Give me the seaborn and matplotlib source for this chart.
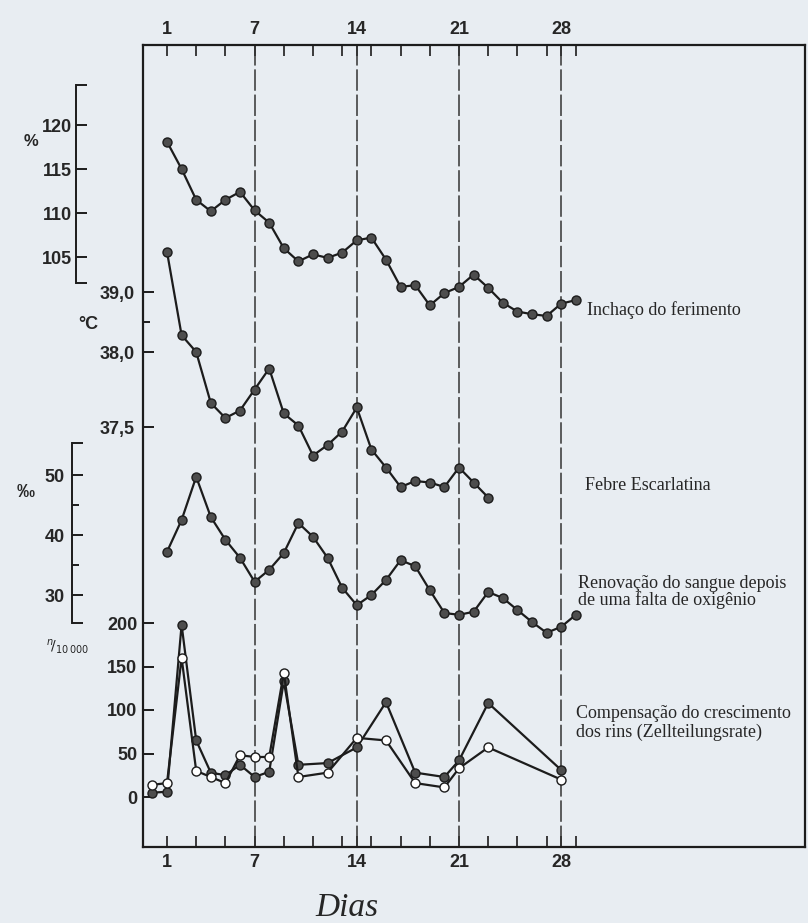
import numpy as np
import matplotlib
matplotlib.use("Agg")
import matplotlib.pyplot as plt
import seaborn as sns
from matplotlib.ticker import FixedLocator, FixedFormatter

# x axis (days)
day_ticks = [1, 7, 14, 21, 28]
minor_days = [3, 5, 9, 11, 13, 15, 17, 19, 23, 25, 27, 29]
ref_days = [7, 14, 21, 28]

# Inchaço do ferimento (%)
swell_days = list(range(1, 30))
swell_pct = [118.1, 115.0, 111.5, 110.2, 111.5, 112.4, 110.3, 108.9, 106.0, 104.5,
             105.3, 104.9, 105.5, 106.9, 107.2, 104.7, 101.6, 101.8, 99.5, 100.9,
             101.6, 103.0, 101.5, 99.8, 98.8, 98.5, 98.3, 99.7, 100.1]
pct_ticks = [105, 110, 115, 120]
pct_bracket = (102.0, 124.5)

# Febre Escarlatina (°C)
fever_days = list(range(1, 24))
fever_c = [39.67, 38.28, 38.0, 37.66, 37.56, 37.61, 37.75, 37.89, 37.59, 37.51,
           37.31, 37.38, 37.47, 37.63, 37.35, 37.23, 37.10, 37.14, 37.13, 37.10,
           37.23, 37.13, 37.03]
temp_ticks = [37.5, 38.0, 39.0]
temp_labels = ["37,5", "38,0", "39,0"]
temp_minor = [38.5]

# Renovação do sangue (‰)
blood_days = list(range(1, 30))
blood_pm = [37.2, 42.5, 49.7, 43.0, 39.2, 36.2, 32.2, 34.2, 37.0, 42.0,
            39.7, 36.2, 31.2, 28.3, 30.0, 32.5, 35.8, 34.8, 30.8, 27.0,
            26.7, 27.2, 30.5, 29.5, 27.5, 25.5, 23.7, 24.7, 26.7]
pm_ticks = [30, 40, 50]
pm_minor = [35, 45]
pm_bracket = (25.3, 55.3)

# Compensação do crescimento dos rins (n/10 000)
kid_days = [0, 1, 2, 3, 4, 5, 6, 7, 8, 9, 10, 12, 14, 16, 18, 20, 21, 23, 28]
kid_filled = [5, 6, 198, 65, 28, 25, 37, 23, 29, 133, 37, 39, 57, 109, 28, 23, 42, 108, 31]
kid_open = [14, 16, 160, 30, 23, 16, 48, 46, 46, 143, 23, 28, 68, 65, 16, 11, 33, 57, 20]
cnt_ticks = [0, 50, 100, 150, 200]

BG = "#e8edf2"
INK = "#1c1c1c"

sns.set_theme(style="white")
plt.rcParams["font.family"] = ["Liberation Sans", "DejaVu Sans"]

W, H = 808, 923
L, R, T, B = 143, 805, 45, 847
rect = [L / W, (H - B) / H, (R - L) / W, (B - T) / H]
xlim = (1 - (167 - L) / 14.6, 1 + (R - 167) / 14.6)

fig = plt.figure(figsize=(W / 100, H / 100), dpi=100, facecolor=BG)
ax = fig.add_axes(rect, label="frame")
ax.set_facecolor(BG)
ax.set_xlim(xlim)
ax.set_yticks([])
for s in ax.spines.values():
    s.set_linewidth(1.6)
    s.set_color(INK)
ax.set_xticks(day_ticks)
ax.set_xticks(minor_days, minor=True)
ax.tick_params(axis="x", which="both", direction="in", top=True, bottom=True,
               labeltop=True, labelbottom=True, length=8, width=1.2, color=INK,
               labelsize=13, pad=5)
for lab in ax.get_xticklabels(which="major"):
    lab.set_fontweight("bold")
for d in ref_days:
    ax.axvline(d, color="#333333", lw=1.1, ls=(0, (14, 2.5)))


def overlay(name):
    a = fig.add_axes(rect, label=name)
    a.patch.set_visible(False)
    for s in a.spines.values():
        s.set_visible(False)
    a.set_xlim(xlim)
    a.tick_params(axis="x", which="both", bottom=False, top=False,
                  labelbottom=False, labeltop=False)
    a.tick_params(axis="y", which="both", left=True, right=False, direction="in",
                  color=INK, labelsize=13, width=1.4)
    return a


def lin_ylim(v0, y0, k):
    return (v0 - (B - y0) / k, v0 + (y0 - T) / k)


marker_kw = dict(color=INK, lw=1.6, marker="o", markersize=6.5,
                 markerfacecolor="#4d4d4d", markeredgecolor=INK, markeredgewidth=1.0)

# swelling, bracket scale left of the frame
ax_pct = overlay("pct")
sns.lineplot(x=swell_days, y=swell_pct, ax=ax_pct, **marker_kw)
ax_pct.set_ylim(lin_ylim(120, 125, 8.8))
sp = ax_pct.spines["left"]
sp.set_visible(True)
sp.set_linewidth(1.4)
sp.set_color(INK)
sp.set_position(("axes", (76 - L) / (R - L)))
sp.set_bounds(*pct_bracket)
ax_pct.yaxis.set_major_locator(FixedLocator([pct_bracket[0]] + pct_ticks + [pct_bracket[1]]))
ax_pct.yaxis.set_major_formatter(FixedFormatter([""] + [str(v) for v in pct_ticks] + [""]))
ax_pct.tick_params(axis="y", length=8, pad=3)

# fever, odd piecewise scale as printed
T_KN = np.array([33.0, 37.5, 38.0, 39.0, 45.0])
PX_KN = np.array([1102.0, 427.0, 352.0, 292.0, -68.0])


def fwd(v):
    return -np.interp(v, T_KN, PX_KN)


def inv(u):
    return np.interp(-np.asarray(u), PX_KN[::-1], T_KN[::-1])


ax_tmp = overlay("temp")
sns.lineplot(x=fever_days, y=fever_c, ax=ax_tmp, **marker_kw)
ax_tmp.set_yscale("function", functions=(fwd, inv))
ax_tmp.set_ylim(float(inv(-B)), float(inv(-T)))
ax_tmp.yaxis.set_major_locator(FixedLocator(temp_ticks))
ax_tmp.yaxis.set_major_formatter(FixedFormatter(temp_labels))
ax_tmp.yaxis.set_minor_locator(FixedLocator(temp_minor))
ax_tmp.yaxis.set_minor_formatter(FixedFormatter([""]))
ax_tmp.tick_params(axis="y", which="major", length=8, pad=6)
ax_tmp.tick_params(axis="y", which="minor", length=5)

# blood renewal, second bracket scale
ax_pm = overlay("permille")
sns.lineplot(x=blood_days, y=blood_pm, ax=ax_pm, **marker_kw)
ax_pm.set_ylim(lin_ylim(50, 475, 6.0))
sp = ax_pm.spines["left"]
sp.set_visible(True)
sp.set_linewidth(1.4)
sp.set_color(INK)
sp.set_position(("axes", (72 - L) / (R - L)))
sp.set_bounds(*pm_bracket)
ax_pm.yaxis.set_major_locator(FixedLocator([pm_bracket[0]] + pm_ticks + [pm_bracket[1]]))
ax_pm.yaxis.set_major_formatter(FixedFormatter([""] + [str(v) for v in pm_ticks] + [""]))
ax_pm.yaxis.set_minor_locator(FixedLocator(pm_minor))
ax_pm.yaxis.set_minor_formatter(FixedFormatter(["", ""]))
ax_pm.tick_params(axis="y", which="major", length=8, pad=5)
ax_pm.tick_params(axis="y", which="minor", length=5)

# kidney growth, two series
ax_cnt = overlay("count")
sns.lineplot(x=kid_days, y=kid_filled, ax=ax_cnt, **marker_kw)
open_kw = dict(marker_kw, markerfacecolor="white")
sns.lineplot(x=kid_days, y=kid_open, ax=ax_cnt, **open_kw)
ax_cnt.set_ylim(lin_ylim(0, 797, 0.87))
ax_cnt.yaxis.set_major_locator(FixedLocator(cnt_ticks))
ax_cnt.yaxis.set_major_formatter(FixedFormatter([str(v) for v in cnt_ticks]))
ax_cnt.tick_params(axis="y", length=8, pad=4)

for a in (ax_pct, ax_tmp, ax_pm, ax_cnt):
    for lab in a.get_yticklabels():
        lab.set_fontweight("bold")
    a.set_xlabel("")
    a.set_ylabel("")


def ftext(x, y, s, **kw):
    fig.text(x / W, 1 - y / H, s, **kw)


ftext(31, 141, "%", fontsize=12, fontweight="bold", ha="center", va="center")
ftext(88, 324, "°C", fontsize=13, fontweight="bold", ha="center", va="center")
ftext(26, 493, "‰", fontsize=13, fontweight="bold", ha="center", va="center")
ftext(68, 647, r"$^{n}\!/_{10\,000}$", fontsize=10, ha="center", va="center")

serif = ["Liberation Serif", "DejaVu Serif"]
ftext(587, 310, "Inchaço do ferimento", family=serif, fontsize=13, va="center")
ftext(585, 486, "Febre Escarlatina", family=serif, fontsize=13, va="center")
ftext(578, 592, "Renovação do sangue depois\nde uma falta de oxigênio",
      family=serif, fontsize=13, va="center", linespacing=1.0)
ftext(576, 723, "Compensação do crescimento\ndos rins (Zellteilungsrate)",
      family=serif, fontsize=13, va="center", linespacing=1.15)
ftext(347, 908, "Dias", family=serif, fontsize=24, style="italic", ha="center", va="center")

fig.savefig("out.png", dpi=100, facecolor=BG)
plt.close(fig)
